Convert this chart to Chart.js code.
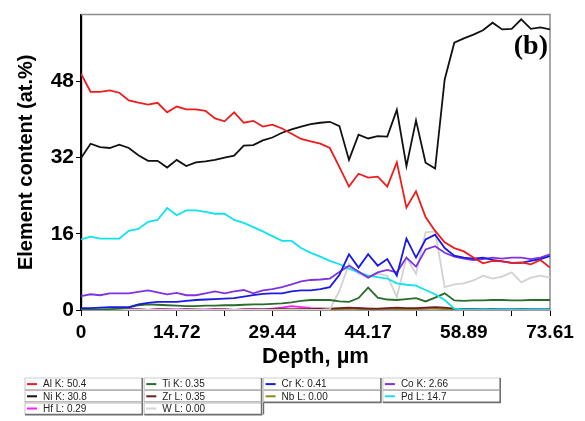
<!DOCTYPE html>
<html><head><meta charset="utf-8">
<script src="https://cdn.jsdelivr.net/npm/chart.js@4.4.1/dist/chart.umd.min.js"></script>
<style>html,body{margin:0;padding:0;background:#fff}#wrap{width:585px;height:421px}</style>
</head><body><div id="wrap"><canvas id="c" width="585" height="421"></canvas></div>
<script>
// ---- data ----
const depth = [0,1.47,2.94,4.42,5.89,7.36,8.83,10.31,11.78,13.25,14.72,16.19,17.67,19.14,20.61,22.08,23.56,25.03,26.50,27.97,29.44,30.92,32.39,33.86,35.33,36.81,38.28,39.75,41.22,42.69,44.17,45.64,47.11,48.58,50.06,51.53,53.00,54.47,55.94,57.42,58.89,60.36,61.83,63.31,64.78,66.25,67.72,69.19,70.67,72.14];
const xTickValues = [0,7.36,14.72,22.08,29.44,36.81,44.17,51.53,58.89,66.25,72.14];
const xTickLabels = ["0","","14.72","","29.44","","44.17","","58.89","","73.61"];
const yTickValues = [0,16,32,48];
const legendLabels = ["Al K: 50.4","Ti K: 0.35","Cr K: 0.41","Co K: 2.66","Ni K: 30.8","Zr L: 0.35","Nb L: 0.00","Pd L: 14.7","Hf L: 0.29","W L: 0.00"];
const seriesColors = ["#ee1c1c","#2b6b2b","#1a1ae6","#7f33e0","#111111","#6b1f1f","#8a8a1f","#11e3ee","#ff1aff","#d2d2d2"];

const Al = [49.6,45.8,45.8,46.1,45.6,44.0,43.5,43.1,43.5,41.5,42.7,42.1,42.1,41.8,40.2,39.6,41.5,39.3,39.7,38.5,38.9,38.1,37.0,35.9,35.4,34.9,34.0,30.0,25.9,28.6,27.8,28.0,25.9,31.0,21.5,24.9,19.5,16.6,14.2,13.0,12.3,11.0,9.8,10.3,10.2,9.9,10.0,9.6,10.5,8.9];
const Ti = [0.1,0.1,0.1,0.2,0.3,0.5,1.0,1.2,1.1,1.0,0.9,0.8,0.8,0.9,0.9,1.0,1.0,1.1,1.2,1.2,1.3,1.4,1.6,1.9,2.1,2.1,2.1,1.8,1.7,2.5,4.7,2.6,2.2,2.1,2.3,2.5,1.8,2.6,3.5,2.0,1.9,2.0,2.0,2.1,2.1,2.0,2.0,2.1,2.1,2.1];
const Cr = [0.4,0.4,0.5,0.6,0.6,0.6,1.2,1.5,1.7,1.7,1.7,1.9,2.1,2.2,2.3,2.4,2.5,2.8,3.1,3.4,3.5,3.5,3.9,4.1,4.1,4.4,4.8,7.4,11.7,8.9,11.7,9.3,10.7,7.2,15.0,11.0,14.8,15.8,13.0,11.4,11.0,10.8,11.0,10.5,10.2,9.9,9.9,10.3,10.7,11.3];
const Co = [2.9,3.3,3.1,3.5,3.5,3.5,3.8,4.1,3.7,3.3,3.6,3.1,3.1,3.5,3.9,3.5,3.9,4.2,3.5,4.1,4.4,4.8,5.4,6.0,6.3,6.4,6.6,8.0,9.3,8.1,6.8,7.9,8.4,7.9,11.0,9.1,12.7,13.4,12.0,11.2,10.8,10.5,10.7,11.0,10.8,11.0,11.0,10.7,11.0,11.7];
const Ni = [31.9,34.9,34.2,34.0,34.7,34.0,32.5,31.3,31.3,29.9,31.5,30.2,31.0,31.2,31.5,32.0,32.4,34.5,34.6,35.6,36.2,37.2,37.9,38.5,39.0,39.3,39.5,38.6,31.5,36.8,36.0,36.5,36.4,42.0,30.2,39.8,30.9,29.7,48.4,56.1,57.0,57.8,58.7,60.3,58.9,59.0,61.0,59.0,59.3,58.9];
const Zr = [0,0,0,0,0,0.1,0.1,0,0.1,0.1,0,0.1,0.1,0,0.1,0.1,0,0.1,0.1,0.1,0.2,0.2,0.1,0.2,0.2,0.3,0.3,0.4,0.5,0.4,0.3,0.3,0.4,0.5,0.4,0.4,0.5,0.6,0.5,0.3,0.2,0.2,0.1,0.2,0.1,0.1,0.2,0.1,0.1,0.1];
const Nb = [0,0,0,0,0,0,0,0,0,0,0,0,0,0,0,0,0,0,0,0,0,0.1,0.1,0.1,0,0.1,0.1,0.2,0.3,0.2,0.1,0.2,0.3,0.2,0.1,0.2,0.3,0.3,0.2,0.1,0,0,0,0,0,0,0,0,0,0];
const Pd = [14.8,15.4,15.0,15.0,15.0,16.6,17.0,18.5,18.9,21.4,19.9,20.9,20.9,20.6,20.2,20.2,18.9,18.3,17.4,16.5,15.5,14.5,14.5,13.0,12.0,11.2,10.3,9.6,8.7,7.9,7.2,6.9,6.6,5.6,5.3,5.1,4.2,3.3,2.1,0.3,0.05,0.05,0.05,0.05,0.05,0.05,0.05,0.05,0.05,0.05];
const Hf = [0,0,0,0,0.1,0.2,0.1,0,0.2,0.1,0.1,0.2,0,0.1,0.2,0.1,0,0.1,0.2,0.1,0.3,0.5,0.8,0.6,0.4,0.3,0.2,0.2,0.3,0.4,0.3,0.2,0.2,0.3,0.2,0.2,0.3,0.4,0.3,0.2,0.1,0.1,0.1,0.1,0.1,0.1,0.1,0.1,0.1,0.1];
const W = [0,0,0,0,0,0,0,0,0,0,0,0,0,0,0,0,0,0,0,0,0,0,0,0,0,0,0.2,4.0,9.7,7.6,6.8,7.6,7.2,2.7,11.0,7.6,16.3,16.5,4.8,5.4,5.6,6.2,7.2,6.6,7.0,7.9,5.8,6.8,7.2,6.8];

const seriesValues = [Al,Ti,Cr,Co,Ni,Zr,Nb,Pd,Hf,W];
const drawOrder = [1,2,1,1,1,4,4,1,5,3];

const FONT = '"Liberation Sans", Arial, sans-serif';

const datasets = seriesValues.map((vals,i)=>({
  label: legendLabels[i],
  data: vals.map((v,k)=>({x:depth[k], y:v})),
  borderColor: seriesColors[i],
  backgroundColor: seriesColors[i],
  borderWidth: 1.8,
  pointRadius: 0,
  tension: 0,
  fill: false,
  order: drawOrder[i]
}));

const framePlugin = {
  id: 'frame',
  beforeDatasetsDraw(chart){
    const {ctx, chartArea:a} = chart;
    ctx.save();
    ctx.strokeStyle = '#8c8c8c';
    ctx.lineWidth = 1.5;
    ctx.beginPath();
    ctx.moveTo(a.left, a.top); ctx.lineTo(a.right, a.top); ctx.lineTo(a.right, a.bottom);
    ctx.stroke();
    ctx.restore();
  },
  afterDraw(chart){
    const {ctx, chartArea:a} = chart;
    ctx.save();
    // panel label
    ctx.fillStyle = '#000';
    ctx.font = 'bold 28px "Liberation Serif", "Times New Roman", serif';
    ctx.textAlign = 'right';
    ctx.textBaseline = 'alphabetic';
    ctx.fillText('(b)', a.right - 2, 54);
    // legend table
    const x0 = 25, y0 = 378, cw = 119.3, rh = 12.2;
    ctx.font = '10px ' + FONT;
    ctx.textBaseline = 'middle';
    ctx.textAlign = 'left';
    chart.data.datasets.forEach((ds,i)=>{
      const r = Math.floor(i/4), c = i%4;
      const x = x0 + c*cw, y = y0 + r*rh;
      ctx.lineWidth = 1.2;
      ctx.strokeStyle = '#d0d0d0';
      ctx.beginPath(); ctx.moveTo(x, y+rh); ctx.lineTo(x, y); ctx.lineTo(x+cw-2, y); ctx.stroke();
      ctx.strokeStyle = '#6e6e6e';
      ctx.lineWidth = 1.6;
      ctx.beginPath(); ctx.moveTo(x+cw-2, y); ctx.lineTo(x+cw-2, y+rh); ctx.lineTo(x, y+rh); ctx.stroke();
      ctx.strokeStyle = ds.borderColor;
      ctx.lineWidth = 2;
      ctx.beginPath(); ctx.moveTo(x+2, y+rh/2); ctx.lineTo(x+12, y+rh/2); ctx.stroke();
      ctx.fillStyle = '#222';
      ctx.fillText(ds.label, x+18, y+rh/2+0.5);
    });
    // empty trailing cell border in row 3
    ctx.strokeStyle = '#6e6e6e'; ctx.lineWidth = 1.2;
    ctx.beginPath(); ctx.moveTo(x0+2*cw, y0+2*rh); ctx.lineTo(x0+2*cw, y0+3*rh); ctx.stroke();
    ctx.restore();
  }
};

new Chart(document.getElementById('c'), {
  type: 'line',
  data: { datasets },
  options: {
    responsive: false,
    devicePixelRatio: 1,
    animation: false,
    layout: { padding: { left: 0, right: 35, top: 10, bottom: 53 } },
    plugins: { legend: { display: false }, tooltip: { enabled: false } },
    scales: {
      x: {
        type: 'linear',
        min: 0, max: 72.14,
        afterBuildTicks(scale){ scale.ticks = xTickValues.map(v=>({value:v})); },
        afterFit(scale){ scale.height = 58; },
        grid: { display: true, drawOnChartArea: false, drawTicks: true, tickLength: 6, color: '#000', lineWidth: 1 },
        border: { display: true, color: '#9a9a9a', width: 1 },
        ticks: {
          autoSkip: false, maxRotation: 0, minRotation: 0, padding: 5,
          color: '#000', font: { family: FONT, size: 19, weight: 'bold' },
          callback(v, i){ return xTickLabels[i]; }
        },
        title: { display: true, text: 'Depth, µm', color: '#000', padding: { top: 0, bottom: 0 },
          font: { family: FONT, size: 22, weight: 'bold', lineHeight: 1 } }
      },
      y: {
        type: 'linear',
        min: 0, max: 62,
        afterBuildTicks(scale){ scale.ticks = yTickValues.map(v=>({value:v})); },
        afterFit(scale){ scale.width = 81; },
        grid: { display: true, drawOnChartArea: false, drawTicks: true, tickLength: 5, color: '#000', lineWidth: 1 },
        border: { display: true, color: '#000', width: 2.2 },
        ticks: { padding: 2, color: '#000', font: { family: FONT, size: 21, weight: 'bold' },
          callback(v){ return String(v); } },
        title: { display: true, text: 'Element content (at.%)', color: '#000', padding: { top: 14 },
          font: { family: FONT, size: 20, weight: 'bold', lineHeight: 1.2 } }
      }
    }
  },
  plugins: [framePlugin]
});
</script>
</body></html>
